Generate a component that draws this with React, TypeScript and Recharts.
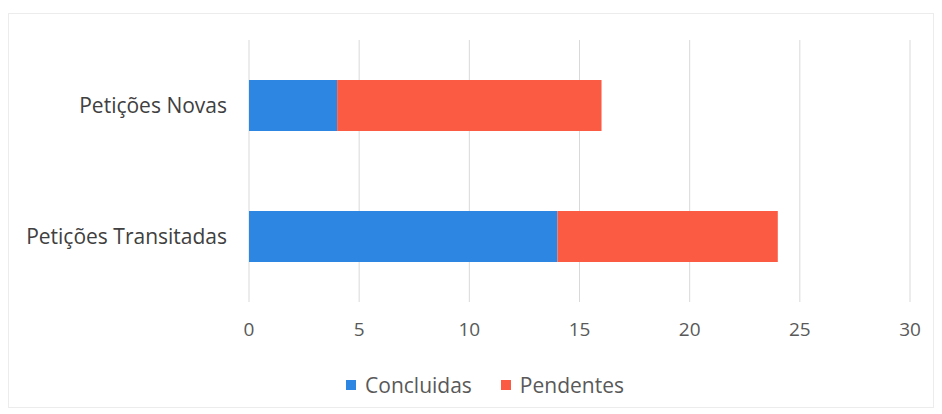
import React from "react";
import { BarChart, Bar, XAxis, YAxis, CartesianGrid, Legend } from "recharts";

const categories = ["Petições Novas", "Petições Transitadas"];
const concluidas = [4, 14];
const pendentes = [12, 10];
const xTicks = [0, 5, 10, 15, 20, 25, 30];
const seriesNames = ["Concluidas", "Pendentes"];
const seriesColors = ["#2D86E2", "#FB5B43"];

const data = categories.map((name, i) => ({
  name,
  Concluidas: concluidas[i],
  Pendentes: pendentes[i],
}));

const FONT = "'Open Sans', sans-serif";

const renderLegend = (props: any) => {
  const payload = props.payload || [];
  return (
    <div
      style={{
        display: "flex",
        justifyContent: "center",
        alignItems: "center",
        height: 30,
        paddingLeft: 28,
        boxSizing: "border-box",
        fontFamily: FONT,
        fontSize: 21,
        color: "#595959",
      }}
    >
      {payload.map((entry: any, i: number) => (
        <div
          key={i}
          style={{ display: "flex", alignItems: "center", marginRight: i < payload.length - 1 ? 29 : 0 }}
        >
          <span
            style={{
              display: "inline-block",
              width: 10,
              height: 10,
              background: entry.color,
              marginRight: 9,
            }}
          />
          <span>{entry.value}</span>
        </div>
      ))}
    </div>
  );
};

export default function App() {
  return (
    <div style={{ position: "absolute", left: 0, top: 0, width: 942, height: 414, background: "#fff" }}>
      <div
        style={{
          position: "absolute",
          left: 8,
          top: 13,
          width: 926,
          height: 395,
          border: "1px solid #ececec",
          boxSizing: "border-box",
        }}
      />
      <BarChart
        width={942}
        height={414}
        data={data}
        layout="vertical"
        margin={{ top: 40, right: 32, left: 0, bottom: 14 }}
        style={{ fontFamily: FONT }}
      >
        <CartesianGrid horizontal={false} vertical={true} stroke="#d9d9d9" />
        <XAxis
          type="number"
          domain={[0, 30]}
          ticks={xTicks}
          interval={0}
          tickLine={false}
          axisLine={false}
          tickSize={0}
          tickMargin={21}
          height={68}
          tick={{ fontSize: 19, fill: "#595959", fontFamily: FONT }}
        />
        <YAxis
          type="category"
          dataKey="name"
          width={249}
          tickLine={false}
          axisLine={false}
          tickSize={0}
          tickMargin={22}
          tick={{ fontSize: 21, fill: "#404040", fontFamily: FONT }}
        />
        <Legend
          verticalAlign="bottom"
          content={renderLegend}
          wrapperStyle={{ width: 942, left: 0 }}
        />
        <Bar
          dataKey={seriesNames[0]}
          stackId="a"
          fill={seriesColors[0]}
          barSize={51}
          isAnimationActive={false}
        />
        <Bar
          dataKey={seriesNames[1]}
          stackId="a"
          fill={seriesColors[1]}
          barSize={51}
          isAnimationActive={false}
        />
      </BarChart>
    </div>
  );
}
